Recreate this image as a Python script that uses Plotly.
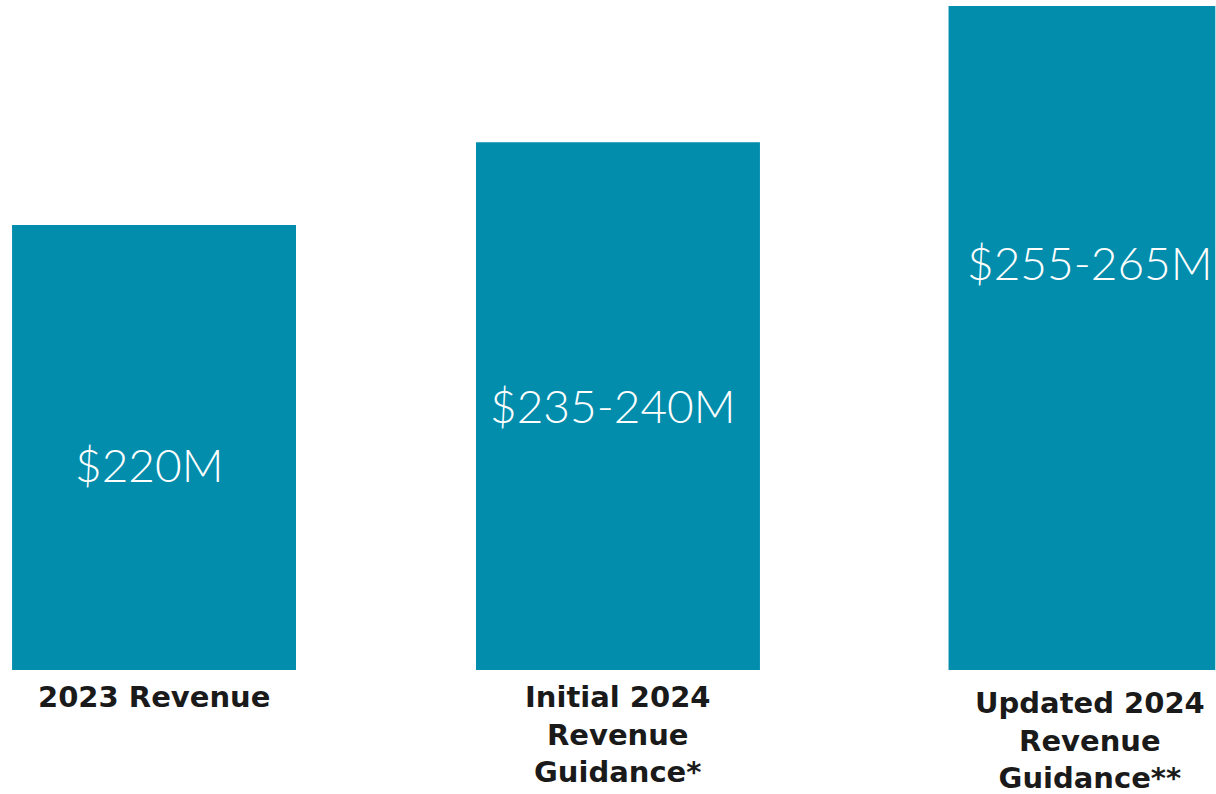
import plotly.graph_objects as go

# bar categories, heights ($M) and labels
categories = ["2023 Revenue", "Initial 2024 Revenue Guidance*", "Updated 2024 Revenue Guidance**"]
tick_labels = ["2023 Revenue", "Initial 2024<br>Revenue<br>Guidance*", "Updated 2024<br>Revenue<br>Guidance**"]
revenue = [220, 237, 265]
value_labels = ["$220M", "$235-240M", "$255-265M"]

BAR = "#028DAC"
FONT = "DejaVu Sans"

# last bar runs off the right edge, so it looks narrower
fig = go.Figure(go.Bar(
    x=categories, y=revenue, marker_color=BAR, marker_line_width=0,
    width=[0.612, 0.612, 0.575], hoverinfo="skip"))

# value text inside bars (paper y, x shift)
val_pos = [(0.309, -5), (0.398, -5), (0.614, 8)]
for cat, txt, (py, xs) in zip(categories, value_labels, val_pos):
    fig.add_annotation(x=cat, y=py, yref="paper", yanchor="middle", text=txt,
                       showarrow=False, xshift=xs,
                       font=dict(family="Lato", size=46, color="white", weight=300))

# category labels under bars
lab_pos = [(-8, 0), (-8, 0), (-14, 8)]
for cat, txt, (ys, xs) in zip(categories, tick_labels, lab_pos):
    fig.add_annotation(x=cat, y=0, yref="paper", yanchor="top", text=txt,
                       showarrow=False, yshift=ys, xshift=xs,
                       font=dict(family=FONT, size=29, color="#1a1a1a", weight=700))

fig.update_layout(
    width=1216, height=794,
    margin=dict(l=0, r=0, t=6, b=124),
    paper_bgcolor="white", plot_bgcolor="white",
    showlegend=False,
    xaxis=dict(range=[-0.332, 2.289], showticklabels=False, showgrid=False, zeroline=False),
    yaxis=dict(range=[128.6, 265], visible=False),
)

fig.write_html("out.html", config={"displayModeBar": False},
               post_script="document.body.style.margin='0';document.body.style.overflow='hidden';")
